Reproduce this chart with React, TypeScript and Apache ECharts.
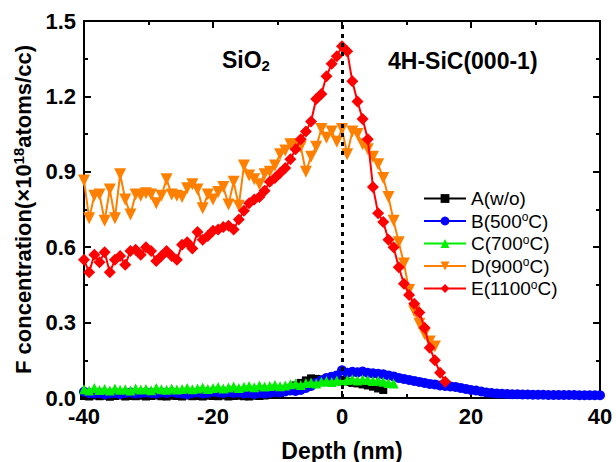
import { useEffect, useRef } from "react";
import * as echarts from "echarts";

const depth = [
  -40.0, -39.2, -38.4, -37.6, -36.8, -36.0, -35.2, -34.4, -33.6, -32.8,
  -32.0, -31.2, -30.4, -29.6, -28.8, -28.0, -27.2, -26.4, -25.6, -24.8,
  -24.0, -23.2, -22.4, -21.6, -20.8, -20.0, -19.2, -18.4, -17.6, -16.8,
  -16.0, -15.2, -14.4, -13.6, -12.8, -12.0, -11.2, -10.4, -9.6, -8.8,
  -8.0, -7.2, -6.4, -5.6, -4.8, -4.0, -3.2, -2.4, -1.6, -0.8,
  0.0, 0.8, 1.6, 2.4, 3.2, 4.0, 4.8, 5.6, 6.4, 7.2,
  8.0, 8.8, 9.6, 10.4, 11.2, 12.0, 12.8, 13.6, 14.4, 15.2,
  16.0, 16.8, 17.6, 18.4, 19.2, 20.0, 20.8, 21.6, 22.4, 23.2,
  24.0, 24.8, 25.6, 26.4, 27.2, 28.0, 28.8, 29.6, 30.4, 31.2,
  32.0, 32.8, 33.6, 34.4, 35.2, 36.0, 36.8, 37.6, 38.4, 39.2,
  40.0,
];

const seriesNames = ["A(w/o)", "B(500oC)", "C(700oC)", "D(900oC)", "E(1100oC)"];

const valuesA = [
  0.008, 0.006, 0.01, 0.007, 0.009, 0.005, 0.008, 0.01, 0.006, 0.008,
  0.007, 0.009, 0.006, 0.008, 0.01, 0.007, 0.006, 0.009, 0.008, 0.006,
  0.01, 0.007, 0.008, 0.006, 0.009, 0.008, 0.007, 0.01, 0.006, 0.008,
  0.009, 0.007, 0.006, 0.009, 0.008, 0.01, 0.012, 0.015, 0.02, 0.03,
  0.04, 0.05, 0.06, 0.07, 0.078, 0.076, 0.074, 0.072, 0.07, 0.07,
  0.068, 0.064, 0.06, 0.058, 0.054, 0.05, 0.045, 0.038, 0.032,
];

const valuesB = [
  0.025, 0.02, 0.018, 0.02, 0.015, 0.018, 0.02, 0.016, 0.02, 0.022,
  0.018, 0.02, 0.022, 0.02, 0.018, 0.022, 0.02, 0.024, 0.02, 0.018,
  0.015, 0.02, 0.022, 0.018, 0.02, 0.025, 0.022, 0.02, 0.024, 0.02,
  0.022, 0.018, 0.02, 0.016, 0.02, 0.018, 0.02, 0.024, 0.022, 0.026,
  0.03, 0.028, 0.032, 0.04, 0.048, 0.06, 0.07, 0.08, 0.085, 0.09,
  0.11, 0.1, 0.104, 0.102, 0.105, 0.1, 0.098, 0.096, 0.094, 0.09,
  0.086, 0.08, 0.076, 0.072, 0.068, 0.064, 0.06, 0.056, 0.054, 0.05,
  0.048, 0.046, 0.044, 0.04, 0.036, 0.032, 0.03, 0.026, 0.022, 0.02,
  0.018, 0.017, 0.016, 0.015, 0.015, 0.014, 0.014, 0.013, 0.013, 0.013,
  0.012, 0.012, 0.012, 0.012, 0.012, 0.012, 0.011, 0.011, 0.011, 0.011,
  0.011,
];

const valuesC = [
  0.035, 0.03, 0.04, 0.032, 0.036, 0.03, 0.038, 0.033, 0.035, 0.03,
  0.038, 0.034, 0.036, 0.031, 0.04, 0.035, 0.033, 0.038, 0.034, 0.036,
  0.04, 0.035, 0.038, 0.042, 0.036, 0.04, 0.044, 0.038, 0.042, 0.046,
  0.04, 0.045, 0.048, 0.043, 0.05, 0.046, 0.048, 0.052, 0.047, 0.05,
  0.055, 0.058, 0.052, 0.06, 0.062, 0.058, 0.065, 0.068, 0.064, 0.07,
  0.068, 0.072, 0.075, 0.07, 0.074, 0.072, 0.068, 0.07, 0.065, 0.06,
  0.058,
];

const valuesD = [
  0.865, 0.715, 0.805, 0.81, 0.705, 0.83, 0.715, 0.89, 0.79, 0.73,
  0.81, 0.805, 0.815, 0.81, 0.775, 0.805, 0.87, 0.81, 0.805, 0.8,
  0.835, 0.85, 0.83, 0.755, 0.81, 0.79, 0.82, 0.84, 0.77, 0.86,
  0.765, 0.925, 0.885, 0.87, 0.85, 0.89, 0.9, 0.925, 0.97, 0.985,
  1.01, 1.01, 1.0, 0.9, 0.96, 1.0, 1.07, 1.035, 1.06, 1.02,
  1.07, 0.97, 1.06, 1.05, 1.01, 0.99, 0.96, 0.93, 0.875, 0.8,
  0.705, 0.62, 0.535, 0.43, 0.345, 0.295, 0.255, 0.225, 0.205,
];

const valuesE = [
  0.55, 0.5, 0.57, 0.54, 0.58, 0.5, 0.55, 0.565, 0.53, 0.585,
  0.59, 0.57, 0.6, 0.585, 0.545, 0.565, 0.585, 0.565, 0.55, 0.61,
  0.62, 0.595, 0.66, 0.63, 0.645, 0.665, 0.67, 0.68, 0.685, 0.67,
  0.71, 0.745, 0.775, 0.79, 0.8, 0.825, 0.86, 0.875, 0.895, 0.915,
  0.95, 0.99, 1.03, 1.06, 1.1, 1.19, 1.21, 1.28, 1.33, 1.36,
  1.4, 1.38, 1.26, 1.18, 1.11, 1.03, 0.84, 0.735, 0.7, 0.63,
  0.6, 0.52, 0.455, 0.41, 0.375, 0.34, 0.28, 0.2, 0.15, 0.1,
  0.065,
];

const xTicks = [-40, -20, 0, 20, 40];
const yTicks = [0.0, 0.3, 0.6, 0.9, 1.2, 1.5];

const colors = ["#000000", "#0000ff", "#00ee00", "#ff8000", "#ff0000"];
const symbols = ["rect", "circle", "triangle", "triangle", "diamond"];
const symbolSizes = [8, 10, 10, 12, 12];
const symbolRotates = [0, 0, 0, 180, 0];
const allValues = [valuesA, valuesB, valuesC, valuesD, valuesE];

const FONT = "'Liberation Sans', Arial, sans-serif";

export default function App() {
  const ref = useRef<HTMLDivElement>(null);
  useEffect(() => {
    if (!ref.current) return;
    const chart = echarts.init(ref.current, undefined, { renderer: "svg" });
    const axisLineStyle = { color: "#000", width: 2 };
    const baseX = {
      type: "value" as const,
      min: xTicks[0],
      max: xTicks[xTicks.length - 1],
      interval: xTicks[1] - xTicks[0],
      splitLine: { show: false },
      axisLine: { show: true, onZero: false, lineStyle: axisLineStyle },
      axisTick: { show: true, inside: true, length: 7, lineStyle: { width: 2, color: "#000" } },
      minorTick: { show: true, splitNumber: 2, length: 4, lineStyle: { width: 2, color: "#000" } },
    };
    const baseY = {
      type: "value" as const,
      min: yTicks[0],
      max: yTicks[yTicks.length - 1],
      interval: yTicks[1] - yTicks[0],
      splitLine: { show: false },
      axisLine: { show: true, onZero: false, lineStyle: axisLineStyle },
      axisTick: { show: true, inside: true, length: 7, lineStyle: { width: 2, color: "#000" } },
      minorTick: { show: true, splitNumber: 2, length: 4, lineStyle: { width: 2, color: "#000" } },
    };
    const series: any[] = allValues.map((vals, k) => ({
      name: seriesNames[k],
      type: "line",
      xAxisIndex: 0,
      yAxisIndex: 0,
      data: vals.map((v, i) => [depth[i], v]),
      symbol: symbols[k],
      symbolSize: symbolSizes[k],
      symbolRotate: symbolRotates[k],
      showAllSymbol: true,
      color: colors[k],
      itemStyle: { color: colors[k] },
      lineStyle: { color: colors[k], width: 2 },
      clip: false,
      z: 2 + k,
    }));
    series[0].markLine = {
      silent: true,
      symbol: "none",
      label: { show: false },
      lineStyle: { color: "#000", width: 3, type: [4, 5] },
      data: [{ xAxis: 0 }],
      z: 10,
    };
    chart.setOption({
      animation: false,
      backgroundColor: "#fff",
      grid: { left: 84, right: 16, top: 21, bottom: 64, containLabel: false, outerBoundsMode: "none" },
      xAxis: [
        {
          ...baseX,
          position: "bottom",
          axisLabel: { color: "#000", fontFamily: FONT, fontWeight: "bold", fontSize: 22, margin: 7 },
          name: "Depth (nm)",
          nameLocation: "middle",
          nameGap: 41,
          nameTextStyle: { color: "#000", fontFamily: FONT, fontWeight: "bold", fontSize: 23 },
        },
        { ...baseX, position: "top", axisLabel: { show: false } },
      ],
      yAxis: [
        {
          ...baseY,
          position: "left",
          axisLabel: {
            color: "#000", fontFamily: FONT, fontWeight: "bold", fontSize: 22, margin: 8,
            formatter: (v: number) => v.toFixed(1),
          },
          name: "F concentration(\u00d710{sup|18}atoms/cc)",
          nameLocation: "middle",
          nameGap: 42,
          nameTextStyle: {
            color: "#000", fontFamily: FONT, fontWeight: "bold", fontSize: 22,
            rich: {
              sup: { fontFamily: FONT, fontWeight: "bold", fontSize: 15, color: "#000", padding: [0, 0, 10, 0] },
            },
          },
        },
        { ...baseY, position: "right", axisLabel: { show: false } },
      ],
      legend: {
        orient: "vertical",
        left: 418,
        top: 184,
        itemWidth: 42,
        itemHeight: 11,
        itemGap: 3,
        data: seriesNames,
        formatter: (name: string) => name.replace("oC", "{sup|o}C"),
        textStyle: {
          color: "#000", fontFamily: FONT, fontSize: 19, lineHeight: 19,
          rich: {
            sup: { fontFamily: FONT, fontSize: 12, color: "#000", padding: [0, 0, 8, 0] },
          },
        },
      },
      graphic: [
        {
          type: "text",
          left: 222,
          top: 48,
          style: {
            text: "{a|SiO}{b|2}",
            rich: {
              a: { fontFamily: FONT, fontWeight: "bold", fontSize: 23, fill: "#000" },
              b: { fontFamily: FONT, fontWeight: "bold", fontSize: 15, fill: "#000", padding: [11, 0, 0, 0] },
            },
          },
        },
        {
          type: "text",
          left: 388,
          top: 49,
          style: {
            text: "4H-SiC(000-1)",
            fontFamily: FONT,
            fontWeight: "bold",
            fontSize: 23,
            fill: "#000",
          },
        },
      ],
      series,
    });
    return () => chart.dispose();
  }, []);
  return (
    <div
      ref={ref}
      style={{ position: "fixed", left: 0, top: 0, width: 616, height: 462 }}
    />
  );
}
